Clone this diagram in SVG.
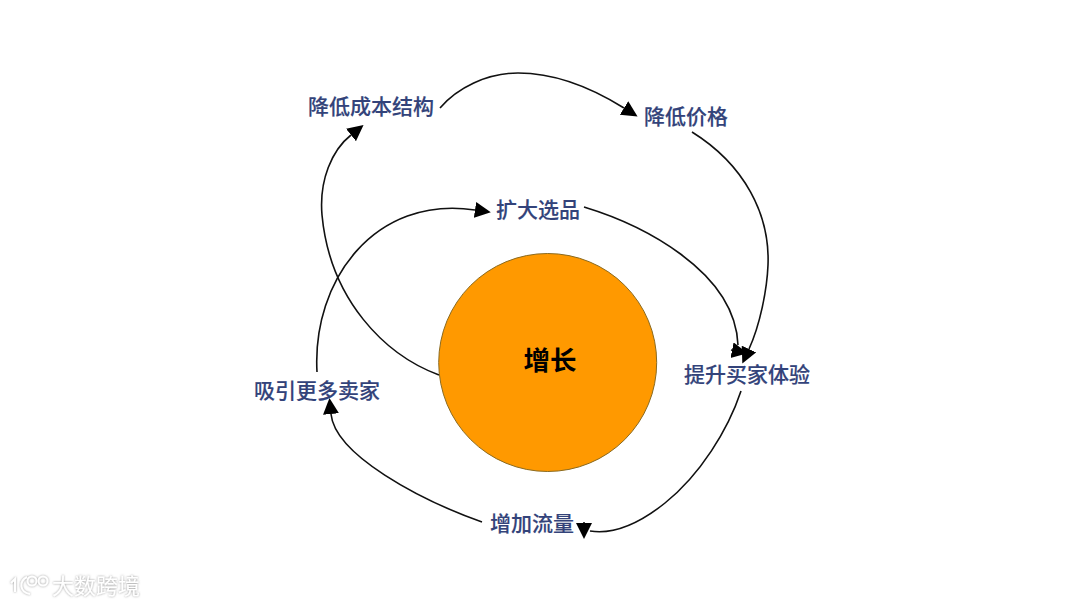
<svg xmlns="http://www.w3.org/2000/svg" width="1080" height="608" viewBox="0 0 1080 608">
<style>
text{font-family:"Liberation Sans","Noto Sans CJK SC",sans-serif;text-anchor:middle}
.n{font-size:21px;fill:#33437a;font-weight:500;stroke:#33437a;stroke-width:.15}
.c{fill:none;stroke:#111;stroke-width:1.6;marker-end:url(#a)}
.w{font-size:22px;fill:#fff;text-anchor:start}
.l{fill:none;stroke:#fff;stroke-width:2}
</style>
<defs>
<marker id="a" markerUnits="userSpaceOnUse" markerWidth="17" markerHeight="17" refX="0" refY="8" orient="auto"><path d="M0 0L16 8L0 16Z" fill="#000"/></marker>
<filter id="s" x="-10%" y="-30%" width="120%" height="160%"><feDropShadow dx="0" dy="0" stdDeviation="1.2" flood-color="#777" flood-opacity=".8"/></filter>
</defs>
<rect width="1080" height="608" fill="#fff"/>
<g id="connectors">
<path class="c" d="M440 108C457 88 487 73 518 73C557 73 592 88 624 108"/>
<path class="c" d="M692 132C745 165 770 215 768 265C767 290 760 325 749 349"/>
<path class="c" d="M584 207C640 224 735 270 738 345M731 350L732 350.2"/>
<path class="c" d="M741 391C728 430 700 475 665 503C640 523 615 535 590 531M584 522L584 523"/>
<path class="c" d="M482 522C420 500 335 455 331 414"/>
<path class="c" d="M317 372C312 280 375 195 475 210"/>
<path class="c" d="M439 375C385 355 330 300 322 215C319 180 332 150 351 135"/>
</g>
<g id="center"><circle cx="547.7" cy="362.5" r="109" fill="#ff9900" stroke="#8a6a20" stroke-width="1"/><text x="550" y="370" font-size="26.5" font-weight="700" fill="#000">增长</text></g>
<g id="n1"><text class="n" x="371" y="114">降低成本结构</text></g>
<g id="n2"><text class="n" x="686" y="124">降低价格</text></g>
<g id="n3"><text class="n" x="538" y="217">扩大选品</text></g>
<g id="n4"><text class="n" x="747" y="382">提升买家体验</text></g>
<g id="n5"><text class="n" x="532" y="531">增加流量</text></g>
<g id="n6"><text class="n" x="317" y="398">吸引更多卖家</text></g>
<g id="watermark" filter="url(#s)">
<path class="l" d="M11 583L15 579V592M27 577C19 581 19 592 30 594"/><circle class="l" cx="32" cy="581" r="4.5"/><circle class="l" cx="43" cy="581" r="4.5"/>
<text class="w" x="52" y="594">大数跨境</text>
</g>
</svg>
